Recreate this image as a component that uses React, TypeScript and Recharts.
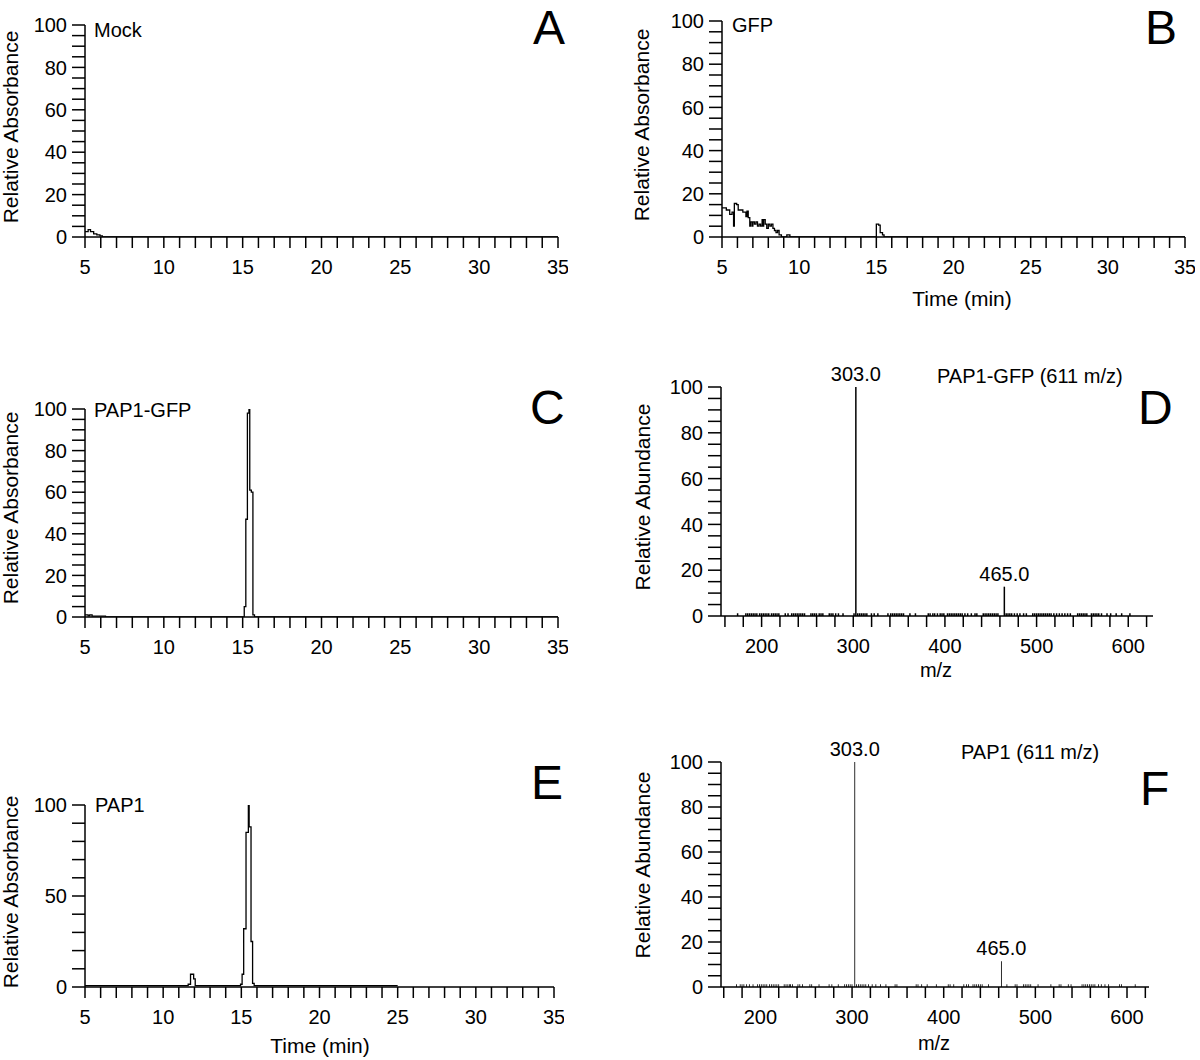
import React from "react";
import { Bar, BarChart, LabelList, Line, LineChart, XAxis, YAxis } from "recharts";

const FONT = '"Liberation Sans", Arial, Helvetica, sans-serif';

// ---- chromatograms (time in min, relative absorbance %) ----
const mockTime = [5.0, 5.2, 5.35, 5.55, 5.75, 5.95, 6.1, 35];
const mockAbs = [2.5, 3.5, 2.5, 1.5, 1, 0.5, 0, 0];

const gfpTime = [
  5.0, 5.28, 5.5, 5.65, 5.75, 5.8, 5.95, 6.05, 6.35, 6.55, 6.62, 6.7, 6.8, 6.85, 6.95, 7.0, 7.1, 7.2, 7.3,
  7.4, 7.5, 7.6, 7.65, 7.7, 7.8, 7.9, 8.0, 8.1, 8.2, 8.3, 8.4, 8.5, 8.6, 8.7, 8.85, 9.2, 9.4, 15.0, 15.15,
  15.25, 15.4, 15.5, 35,
];
const gfpAbs = [
  13.5, 12.5, 10.5, 11.5, 5, 15.5, 15, 12.5, 11.5, 9.5, 12, 9, 5, 7, 5, 7, 6, 7, 5, 6, 5, 8, 5, 8, 6, 4, 6,
  5, 6, 4, 3, 2, 3, 1, 0, 1, 0, 6, 5.5, 2, 1, 0, 0,
];

const pap1GfpTime = [5.0, 5.2, 5.3, 5.45, 6.3, 15.1, 15.2, 15.3, 15.4, 15.45, 15.55, 15.65, 15.75, 35];
const pap1GfpAbs = [1, 0.5, 1, 0.4, 0, 5, 47, 98, 100, 61, 60, 1, 0, 0];

const pap1Time = [5, 11.6, 11.75, 11.95, 12.05, 14.95, 15.05, 15.15, 15.3, 15.45, 15.5, 15.62, 15.72, 15.82, 25];
const pap1Abs = [0.8, 1.5, 7, 4.5, 0.8, 1.5, 7, 32, 85, 100, 88, 25, 2, 0.8, 0.8];

// ---- MS2 spectra of 611 m/z ----
const NOISE = 1.2;
const gfpNoiseMz = [
  174, 183, 185, 187, 189, 191, 193, 195, 198, 200, 202, 204, 206, 208, 211, 213, 215, 217, 219, 226, 229,
  233, 235, 237, 239, 241, 243, 245, 247, 254, 256, 258, 260, 263, 265, 267, 274, 276, 278, 281, 284, 289,
  301, 305, 307, 309, 311, 313, 315, 320, 323, 327, 338, 341, 343, 345, 347, 349, 351, 353, 355, 362, 368,
  382, 384, 387, 389, 392, 395, 397, 399, 403, 405, 407, 409, 411, 413, 415, 417, 419, 422, 425, 429, 433,
  435, 442, 444, 446, 448, 450, 452, 454, 456, 458, 467, 469, 471, 473, 476, 479, 482, 486, 489, 496, 498,
  500, 502, 504, 506, 508, 510, 512, 514, 516, 519, 522, 525, 528, 531, 534, 537, 545, 547, 549, 551, 553,
  555, 560, 562, 564, 566, 568, 571, 577, 581, 587, 593, 602,
];
const gfpPeakMz = [303, 465];
const gfpPeakAb = [100, 12.8];

const pap1NoiseMz = [
  174, 178, 180, 182, 185, 188, 192, 197, 199, 201, 203, 205, 207, 210, 212, 214, 216, 218, 220, 226, 228,
  230, 232, 233, 235, 241, 243, 246, 254, 256, 264, 275, 278, 285, 292, 294, 296, 298, 300, 305, 307, 309,
  311, 313, 315, 318, 322, 326, 331, 337, 347, 349, 370, 372, 376, 382, 392, 405, 407, 411, 422, 425, 427,
  432, 434, 436, 438, 440, 442, 449, 469, 478, 480, 487, 489, 491, 493, 495, 503, 517, 526, 528, 536, 539,
  551, 553, 555, 557, 559, 561, 563, 565, 569, 572, 576, 580, 592, 594, 609,
];
const pap1PeakMz = [303, 463];
const pap1PeakAb = [100, 11.5];
const peakTags = ["303.0", "465.0"];

// ---- ticks ----
const TIME_LABELS = [5, 10, 15, 20, 25, 30, 35];
const TIME_TICKS = Array.from({ length: 31 }, (_, i) => 5 + i);
const PCT_LABELS = [0, 20, 40, 60, 80, 100];
const PCT_TICKS = Array.from({ length: 21 }, (_, i) => i * 5);
const PCT_LABELS_E = [0, 50, 100];
const PCT_TICKS_E = Array.from({ length: 11 }, (_, i) => i * 10);
const MZ_LABELS = [200, 300, 400, 500, 600];
const MZ_TICKS = Array.from({ length: 24 }, (_, i) => 160 + i * 20);

type Box = { l: number; t: number; r: number; b: number };
type Pt = [number, number];

const ML = 5;
const MT = 40;
const MR = 10;
const YW = 110;
const XH = 80;

const tickStyle = { fill: "#000", fontSize: 20, fontFamily: FONT };
const lineStyle = { stroke: "#000", strokeWidth: 1.5 };

function place(box: Box) {
  return {
    left: box.l - YW - ML,
    top: box.t - MT,
    width: box.r - box.l + YW + ML + MR,
    height: box.b - box.t + MT + XH,
  };
}

// label drawn at a page position, converted to chart coordinates
function pageLabel(box: Box, text: string, p: Pt, rotate = false, size = 20) {
  const o = place(box);
  const x = p[0] - o.left;
  const y = p[1] - o.top;
  return () => (
    <text
      x={x}
      y={y}
      textAnchor="middle"
      dominantBaseline="central"
      transform={rotate ? `rotate(-90 ${x} ${y})` : undefined}
      fontFamily={FONT}
      fontSize={size}
      fill="#000"
    >
      {text}
    </text>
  );
}

const fmt = (labels: number[]) => (v: number) => (labels.includes(v) ? String(v) : "");

function Chromatogram(props: {
  time: number[];
  abs: number[];
  box: Box;
  yTicks: number[];
  yLabels: number[];
  yTitle: Pt;
  xTitle?: Pt;
}) {
  const { time, abs, box, yTicks, yLabels, yTitle, xTitle } = props;
  const data = time.map((t, i) => ({ t, v: abs[i] }));
  const o = place(box);
  return (
    <div style={{ position: "absolute", left: o.left, top: o.top }}>
      <LineChart width={o.width} height={o.height} data={data} margin={{ top: MT, right: MR, bottom: 0, left: ML }}>
        <XAxis
          dataKey="t"
          type="number"
          domain={[5, 35]}
          allowDataOverflow
          ticks={TIME_TICKS}
          interval={0}
          tickFormatter={fmt(TIME_LABELS)}
          tick={tickStyle}
          tickSize={11}
          tickMargin={12}
          axisLine={lineStyle}
          tickLine={lineStyle}
          height={XH}
          label={xTitle ? pageLabel(box, "Time (min)", xTitle, false, 21) : undefined}
        />
        <YAxis
          type="number"
          domain={[0, 100]}
          allowDataOverflow
          ticks={yTicks}
          interval={0}
          tickFormatter={fmt(yLabels)}
          tick={tickStyle}
          tickSize={13}
          tickMargin={5}
          axisLine={lineStyle}
          tickLine={lineStyle}
          width={YW}
          label={pageLabel(box, "Relative Absorbance", yTitle, true, 21)}
        />
        <Line
          type="stepAfter"
          dataKey="v"
          stroke="#000"
          strokeWidth={1.3}
          dot={false}
          activeDot={false}
          isAnimationActive={false}
        />
      </LineChart>
    </div>
  );
}

function Spectrum(props: {
  noiseMz: number[];
  peakMz: number[];
  peakAb: number[];
  box: Box;
  domain: [number, number];
  yTitle: Pt;
  xTitle: Pt;
}) {
  const { noiseMz, peakMz, peakAb, box, domain, yTitle, xTitle } = props;
  const data = [
    ...noiseMz.map((mz) => ({ mz, ab: NOISE, tag: undefined as string | undefined })),
    ...peakMz.map((mz, i) => ({ mz, ab: peakAb[i], tag: peakTags[i] })),
  ].sort((a, b) => a.mz - b.mz);
  const o = place(box);
  return (
    <div style={{ position: "absolute", left: o.left, top: o.top }}>
      <BarChart width={o.width} height={o.height} data={data} margin={{ top: MT, right: MR, bottom: 0, left: ML }}>
        <XAxis
          dataKey="mz"
          type="number"
          domain={domain}
          allowDataOverflow
          ticks={MZ_TICKS}
          interval={0}
          tickFormatter={fmt(MZ_LABELS)}
          tick={tickStyle}
          tickSize={11}
          tickMargin={12}
          axisLine={lineStyle}
          tickLine={lineStyle}
          height={XH}
          label={pageLabel(box, "m/z", xTitle)}
        />
        <YAxis
          type="number"
          domain={[0, 100]}
          allowDataOverflow
          ticks={PCT_TICKS}
          interval={0}
          tickFormatter={fmt(PCT_LABELS)}
          tick={tickStyle}
          tickSize={13}
          tickMargin={5}
          axisLine={lineStyle}
          tickLine={lineStyle}
          width={YW}
          label={pageLabel(box, "Relative Abundance", yTitle, true, 21)}
        />
        <Bar dataKey="ab" fill="#000" barSize={1.5} isAnimationActive={false}>
          <LabelList dataKey="tag" position="top" offset={6} fill="#000" fontSize={20} fontFamily={FONT} />
        </Bar>
      </BarChart>
    </div>
  );
}

function Txt({ x, base, size = 20, children }: { x: number; base: number; size?: number; children: React.ReactNode }) {
  return (
    <div
      style={{
        position: "absolute",
        left: x,
        top: base - 0.8465 * size,
        fontSize: size,
        lineHeight: 1,
        fontFamily: FONT,
        color: "#000",
        whiteSpace: "nowrap",
      }}
    >
      {children}
    </div>
  );
}

export default function App() {
  return (
    <div
      style={{
        position: "absolute",
        left: 0,
        top: 0,
        width: 1200,
        height: 1060,
        background: "#fff",
        overflow: "hidden",
      }}
    >
      <Chromatogram
        time={mockTime}
        abs={mockAbs}
        box={{ l: 85, t: 25, r: 558, b: 237 }}
        yTicks={PCT_TICKS}
        yLabels={PCT_LABELS}
        yTitle={[10, 127]}
      />
      <Chromatogram
        time={gfpTime}
        abs={gfpAbs}
        box={{ l: 722, t: 21, r: 1185, b: 237 }}
        yTicks={PCT_TICKS}
        yLabels={PCT_LABELS}
        yTitle={[641, 125]}
        xTitle={[962, 298]}
      />
      <Chromatogram
        time={pap1GfpTime}
        abs={pap1GfpAbs}
        box={{ l: 85, t: 409, r: 558, b: 617 }}
        yTicks={PCT_TICKS}
        yLabels={PCT_LABELS}
        yTitle={[10, 508]}
      />
      <Spectrum
        noiseMz={gfpNoiseMz}
        peakMz={gfpPeakMz}
        peakAb={gfpPeakAb}
        box={{ l: 721, t: 387, r: 1153, b: 616 }}
        domain={[155.7, 627]}
        yTitle={[642, 497]}
        xTitle={[936, 670]}
      />
      <Chromatogram
        time={pap1Time}
        abs={pap1Abs}
        box={{ l: 85, t: 805, r: 554, b: 987 }}
        yTicks={PCT_TICKS_E}
        yLabels={PCT_LABELS_E}
        yTitle={[10, 892]}
        xTitle={[320, 1045]}
      />
      <Spectrum
        noiseMz={pap1NoiseMz}
        peakMz={pap1PeakMz}
        peakAb={pap1PeakAb}
        box={{ l: 721, t: 762, r: 1149, b: 987 }}
        domain={[157, 624]}
        yTitle={[642, 865]}
        xTitle={[934, 1043]}
      />

      <Txt x={94} base={37}>Mock</Txt>
      <Txt x={732} base={32}>GFP</Txt>
      <Txt x={94} base={417}>PAP1-GFP</Txt>
      <Txt x={95} base={812}>PAP1</Txt>
      <Txt x={937} base={383}>PAP1-GFP (611 m/z)</Txt>
      <Txt x={961} base={759}>PAP1 (611 m/z)</Txt>

      <Txt x={533} base={45} size={48}>A</Txt>
      <Txt x={1145} base={45} size={48}>B</Txt>
      <Txt x={530} base={425} size={48}>C</Txt>
      <Txt x={1138} base={425} size={48}>D</Txt>
      <Txt x={531} base={800} size={48}>E</Txt>
      <Txt x={1140} base={806} size={48}>F</Txt>
    </div>
  );
}
